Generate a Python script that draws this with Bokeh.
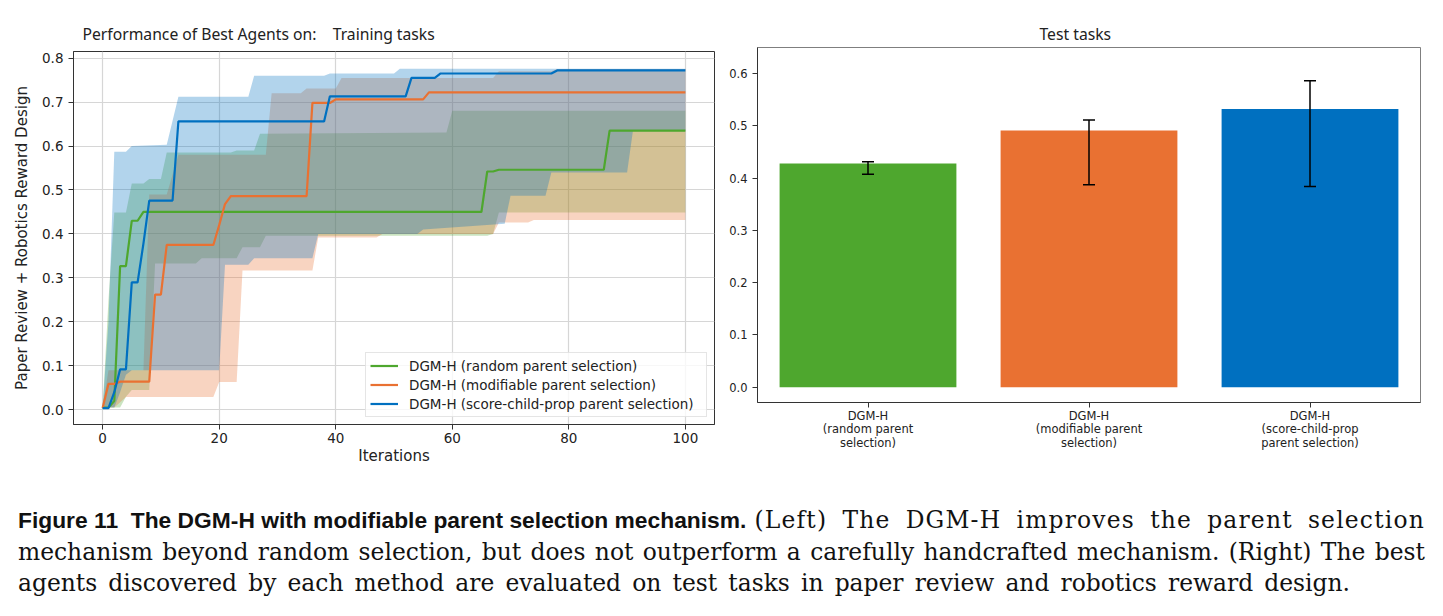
from bokeh.plotting import figure
from bokeh.layouts import column, row
from bokeh.models import (ColumnDataSource, FixedTicker, Legend, LegendItem,
                          Title, Whisker, TeeHead, Div)
from bokeh.embed import file_html
from bokeh.resources import INLINE

# ---------------- data: training curves (iteration, score) ----------------
iters_label = "Iterations"
y_label = "Paper Review + Robotics Reward Design"
title_prefix = "Performance of Best Agents on:"
left_title = "Training tasks"
right_title = "Test tasks"
series_names = ["DGM-H (random parent selection)",
                "DGM-H (modifiable parent selection)",
                "DGM-H (score-child-prop parent selection)"]
colors = ["#4ea72e", "#e97132", "#0070c0"]

# best-so-far score, random parent selection
green_x = [0, 1, 2, 3, 4, 5, 6, 7, 65, 66, 67, 68, 86, 87, 100]
green_y = [0.005, 0.005, 0.02, 0.327, 0.327, 0.43, 0.43, 0.45, 0.45, 0.542, 0.542, 0.546, 0.546, 0.635, 0.635]
green_up_x = [0, 1, 2, 4, 5, 7, 8, 10, 11, 22, 23, 26, 27, 59, 60, 100]
green_up_y = [0.005, 0.25, 0.449, 0.449, 0.515, 0.515, 0.525, 0.525, 0.585, 0.585, 0.59, 0.59, 0.628, 0.631, 0.680, 0.680]
green_lo_x = [0, 3, 4, 5, 8, 9, 16, 17, 23, 24, 27, 28, 66, 67, 68, 100]
green_lo_y = [0.005, 0.005, 0.03, 0.045, 0.045, 0.333, 0.333, 0.345, 0.345, 0.37, 0.37, 0.396, 0.396, 0.40, 0.449, 0.449]

# best-so-far score, modifiable parent selection
orange_x = [0, 1, 2, 3, 8, 9, 10, 11, 19, 20, 21, 22, 35, 36, 39, 40, 55, 56, 100]
orange_y = [0.004, 0.059, 0.059, 0.064, 0.064, 0.262, 0.262, 0.375, 0.375, 0.42, 0.468, 0.486, 0.486, 0.698, 0.698, 0.706, 0.706, 0.722, 0.722]
orange_up_x = [0, 1, 7, 8, 11, 13, 28, 29, 34, 35, 40, 41, 67, 68, 77, 78, 100]
orange_up_y = [0.005, 0.09, 0.09, 0.49, 0.49, 0.58, 0.58, 0.72, 0.72, 0.731, 0.731, 0.755, 0.755, 0.77, 0.77, 0.775, 0.775]
orange_lo_x = [0, 2, 4, 19, 20, 23, 24, 36, 37, 47, 48, 67, 68, 73, 74, 100]
orange_lo_y = [0.005, 0.005, 0.029, 0.029, 0.063, 0.063, 0.317, 0.317, 0.392, 0.392, 0.40, 0.40, 0.426, 0.426, 0.432, 0.432]

# best-so-far score, score-child-prop parent selection
blue_x = [0, 1, 2, 3, 4, 5, 6, 7, 8, 12, 13, 38, 39, 52, 53, 57, 58, 77, 78, 100]
blue_y = [0.004, 0.004, 0.04, 0.092, 0.092, 0.29, 0.29, 0.378, 0.476, 0.476, 0.656, 0.656, 0.713, 0.713, 0.755, 0.755, 0.765, 0.765, 0.772, 0.772]
blue_up_x = [0, 1, 2, 4, 5, 11, 13, 25, 26, 38, 39, 50, 51, 100]
blue_up_y = [0.005, 0.2, 0.587, 0.587, 0.60, 0.603, 0.712, 0.712, 0.76, 0.76, 0.765, 0.765, 0.776, 0.776]
blue_lo_x = [0, 2, 3, 4, 5, 20, 21, 25, 26, 36, 37, 54, 55, 69, 70, 76, 77, 90, 91, 100]
blue_lo_y = [0.005, 0.005, 0.04, 0.08, 0.09, 0.09, 0.33, 0.33, 0.345, 0.345, 0.40, 0.40, 0.41, 0.423, 0.487, 0.487, 0.54, 0.54, 0.634, 0.634]

x_ticks = [0, 20, 40, 60, 80, 100]
y_ticks_left = [0.0, 0.1, 0.2, 0.3, 0.4, 0.5, 0.6, 0.7, 0.8]

# ---------------- data: test-task bars ----------------
bar_labels = ["DGM-H\n(random parent\nselection)",
              "DGM-H\n(modifiable parent\nselection)",
              "DGM-H\n(score-child-prop\nparent selection)"]
bar_values = [0.428, 0.491, 0.532]
bar_err_low = [0.407, 0.387, 0.384]
bar_err_high = [0.431, 0.511, 0.586]
y_ticks_right = [0.0, 0.1, 0.2, 0.3, 0.4, 0.5, 0.6]

TICK_FONT = "DejaVu Sans"
TITLE_FONT = "Noto Sans"
NBSP = "\u00a0"

# ---------------- left: training curves ----------------
p1 = figure(frame_width=641, frame_height=373, x_range=(-5.0, 105.0), y_range=(-0.0334, 0.815),
            output_backend="svg", toolbar_location=None,
            min_border_left=73, min_border_right=11, min_border_top=51, min_border_bottom=66)
p1.add_layout(Title(text=title_prefix + NBSP * 4 + left_title, align="left", offset=9,
                    text_font=TITLE_FONT, text_font_size="15.7px", text_font_style="normal",
                    text_color="#222222", standoff=14), "above")

bands = [(green_up_x, green_up_y, green_lo_x, green_lo_y),
         (orange_up_x, orange_up_y, orange_lo_x, orange_lo_y),
         (blue_up_x, blue_up_y, blue_lo_x, blue_lo_y)]
for (ux, uy, lx, ly), c in zip(bands, colors):
    p1.patch(ux + lx[::-1], uy + ly[::-1], fill_color=c, fill_alpha=0.3, line_color=None)

lines = []
for (lx_, ly_), c in zip([(green_x, green_y), (orange_x, orange_y), (blue_x, blue_y)], colors):
    lines.append(p1.line(lx_, ly_, line_color=c, line_width=2.2))

p1.xaxis.ticker = FixedTicker(ticks=x_ticks)
p1.yaxis.ticker = FixedTicker(ticks=y_ticks_left)
p1.yaxis.major_label_overrides = {t: f"{t:.1f}" for t in y_ticks_left}
p1.xaxis.axis_label = iters_label
p1.yaxis.axis_label = y_label
for ax in (p1.xaxis, p1.yaxis):
    ax.major_label_text_font = TICK_FONT
    ax.major_label_text_font_size = "13.5px"
    ax.major_label_text_color = "#222222"
    ax.axis_label_text_font = TICK_FONT
    ax.axis_label_text_font_size = "15px"
    ax.axis_label_text_font_style = "normal"
    ax.axis_label_text_color = "#222222"
    ax.minor_tick_line_color = None
    ax.major_tick_out = 5
    ax.major_tick_in = 0
    ax.axis_line_color = "#333333"
    ax.major_tick_line_color = "#333333"
p1.xaxis.major_label_standoff = 3
p1.xaxis.axis_label_standoff = 1
p1.yaxis.axis_label_standoff = 8
p1.grid.grid_line_color = "#d6d6d6"
p1.grid.grid_line_width = 1.2
p1.outline_line_color = "#333333"
p1.outline_line_alpha = 1.0

legend = Legend(items=[LegendItem(label=n, renderers=[r]) for n, r in zip(series_names, lines)],
                location="bottom_right", label_text_font=TICK_FONT, label_text_font_size="13.5px",
                label_text_color="#222222", glyph_width=28, glyph_height=17, label_height=17,
                label_width=293, label_standoff=11, spacing=2, padding=4, margin=7,
                border_line_color="#cccccc", background_fill_alpha=0.8)
p1.add_layout(legend)

# ---------------- right: test tasks ----------------
xs = [0, 1, 2]
p2 = figure(frame_width=663, frame_height=355, x_range=(-0.5, 2.5), y_range=(-0.0294, 0.6497),
            output_backend="svg", toolbar_location=None,
            min_border_left=32, min_border_right=23, min_border_top=47, min_border_bottom=92)
p2.add_layout(Title(text=right_title, align="left", offset=282, text_font=TITLE_FONT,
                    text_font_size="15.7px", text_font_style="normal", text_color="#222222",
                    standoff=6), "above")
p2.vbar(x=xs, top=bar_values, width=0.8, bottom=0, fill_color=colors, line_color=None)
err_src = ColumnDataSource(dict(x=xs, lo=bar_err_low, hi=bar_err_high))
p2.add_layout(Whisker(source=err_src, base="x", lower="lo", upper="hi", level="overlay",
                      line_color="black", line_width=1.5,
                      lower_head=TeeHead(size=12, line_color="black", line_width=1.5),
                      upper_head=TeeHead(size=12, line_color="black", line_width=1.5)))
p2.xaxis.ticker = FixedTicker(ticks=xs)
p2.xaxis.major_label_overrides = {i: lab for i, lab in zip(xs, bar_labels)}
p2.yaxis.ticker = FixedTicker(ticks=y_ticks_right)
p2.yaxis.major_label_overrides = {t: f"{t:.1f}" for t in y_ticks_right}
for ax in (p2.xaxis, p2.yaxis):
    ax.major_label_text_font = TICK_FONT
    ax.major_label_text_font_size = "11.5px"
    ax.major_label_text_color = "#222222"
    ax.minor_tick_line_color = None
    ax.major_tick_out = 5
    ax.major_tick_in = 0
    ax.axis_line_color = "#333333"
    ax.major_tick_line_color = "#333333"
p2.xaxis.major_label_standoff = 1
p2.xaxis.major_label_text_line_height = 0.97
p2.grid.grid_line_color = None
p2.outline_line_color = "#7f7f7f"
p2.outline_line_alpha = 1.0

# ---------------- caption ----------------
caption = Div(width=1443, height=126, margin=(0, 0, 0, 0), text="""
<div style="width: 1407px; padding: 11px 18px 0 18px; font-family: 'DejaVu Serif', serif;
            font-size: 23.4px; line-height: 31.5px; color: #111;">
  <div style="width: 1407px; display: flex; white-space: nowrap;">
    <b style="flex: none; font-family: 'Liberation Sans', sans-serif; font-size: 22.8px; font-weight: bold;">Figure 11&nbsp;&nbsp;The DGM-H with modifiable parent selection mechanism.</b>
    <span style="flex: 1; margin-left: 8px; letter-spacing: 1.2px; white-space: normal; text-align: justify; text-align-last: justify;">(Left) The DGM-H improves the parent selection</span>
  </div>
  <div style="width: 1407px; text-align: justify; text-align-last: justify;">mechanism beyond random selection, but does not outperform a carefully handcrafted mechanism. (Right) The best</div>
  <div style="width: 1407px; white-space: nowrap; word-spacing: 3.7px;">agents discovered by each method are evaluated on test tasks in paper review and robotics reward design.</div>
</div>
""")

layout = column(row(column(p1), column(p2)), caption)
open("out.html", "w").write(file_html(layout, INLINE))
